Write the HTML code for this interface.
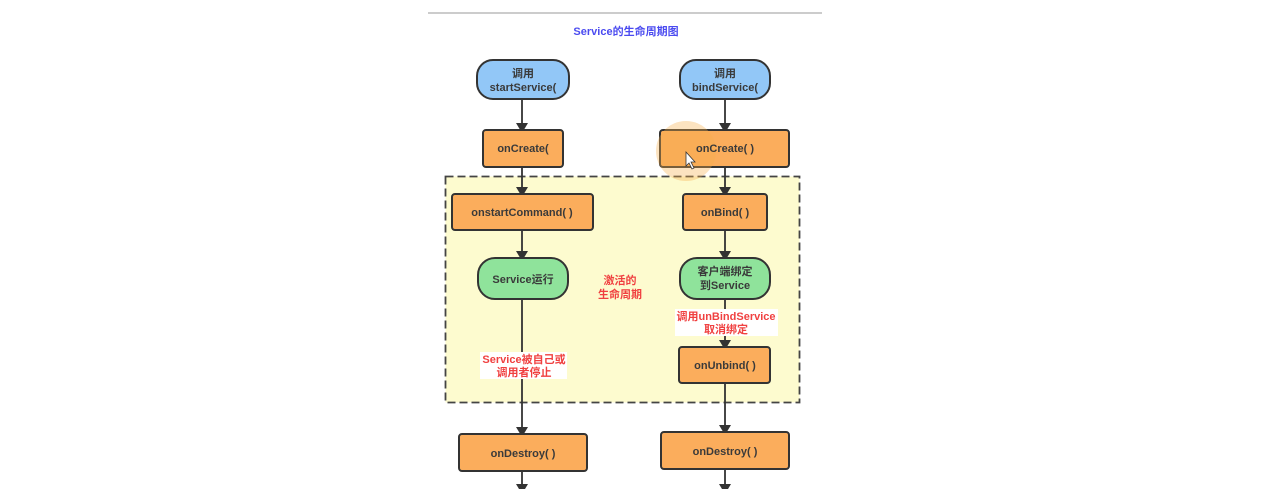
<!DOCTYPE html>
<html><head><meta charset="utf-8"><style>
html,body{margin:0;padding:0;background:#fff;width:1280px;height:489px;overflow:hidden}
svg{display:block}
text{font-family:"Liberation Sans","Noto Sans CJK SC",sans-serif;font-weight:bold;font-size:11px;text-anchor:middle}
</style></head><body>
<svg width="1280" height="489" viewBox="0 0 1280 489">
<defs><marker id="a" markerWidth="10" markerHeight="12" refX="5" refY="6" orient="auto" markerUnits="userSpaceOnUse"><path d="M0,0 L10,6 L0,12 Z" fill="#333"/></marker></defs>
<line x1="428" y1="13" x2="822" y2="13" stroke="#bbb" stroke-width="1.5"/>
<text x="626" y="35" fill="#4b4bf0" font-size="11">Service的生命周期图</text>
<rect x="445.5" y="176.5" width="354" height="226" fill="#fdfbcf" stroke="#444" stroke-width="1.8" stroke-dasharray="8,4"/>
<g stroke="#333" stroke-width="1.8" fill="none">
<line x1="522" y1="99" x2="522" y2="128" marker-end="url(#a)"/>
<line x1="522" y1="167" x2="522" y2="192" marker-end="url(#a)"/>
<line x1="522" y1="230" x2="522" y2="256" marker-end="url(#a)"/>
<line x1="522" y1="299" x2="522" y2="432" marker-end="url(#a)"/>
<line x1="522" y1="471" x2="522" y2="489" marker-end="url(#a)"/>
<line x1="725" y1="99" x2="725" y2="128" marker-end="url(#a)"/>
<line x1="725" y1="167" x2="725" y2="192" marker-end="url(#a)"/>
<line x1="725" y1="230" x2="725" y2="256" marker-end="url(#a)"/>
<line x1="725" y1="299" x2="725" y2="345" marker-end="url(#a)"/>
<line x1="725" y1="383" x2="725" y2="430" marker-end="url(#a)"/>
<line x1="725" y1="469" x2="725" y2="489" marker-end="url(#a)"/>
</g>
<g stroke="#333" stroke-width="2">
<rect x="477" y="60" width="92" height="39" rx="16" fill="#92c7f7"/>
<rect x="680" y="60" width="90" height="39" rx="16" fill="#92c7f7"/>
<rect x="483" y="130" width="80" height="37" rx="3" fill="#fbad5c"/>
<rect x="660" y="130" width="129" height="37" rx="3" fill="#fbad5c"/>
<rect x="452" y="194" width="141" height="36" rx="3" fill="#fbad5c"/>
<rect x="683" y="194" width="84" height="36" rx="3" fill="#fbad5c"/>
<rect x="478" y="258" width="90" height="41" rx="17" fill="#8fe39b"/>
<rect x="680" y="258" width="90" height="41" rx="17" fill="#8fe39b"/>
<rect x="679" y="347" width="91" height="36" rx="3" fill="#fbad5c"/>
<rect x="459" y="434" width="128" height="37" rx="3" fill="#fbad5c"/>
<rect x="661" y="432" width="128" height="37" rx="3" fill="#fbad5c"/>
</g>
<circle cx="686" cy="151" r="30" fill="#f6b04a" opacity="0.35"/>
<rect x="480" y="352" width="87" height="27" fill="#fff"/>
<rect x="675" y="309" width="103" height="27" fill="#fff"/>
<g fill="#3a3a3a">
<text x="523" y="77">调用</text><text x="523" y="91">startService(</text>
<text x="725" y="77">调用</text><text x="725" y="91">bindService(</text>
<text x="523" y="152">onCreate(</text>
<text x="725" y="152">onCreate( )</text>
<text x="522" y="216">onstartCommand( )</text>
<text x="725" y="216">onBind( )</text>
<text x="523" y="283">Service运行</text>
<text x="725" y="275">客户端绑定</text><text x="725" y="289">到Service</text>
<text x="725" y="369">onUnbind( )</text>
<text x="523" y="457">onDestroy( )</text>
<text x="725" y="455">onDestroy( )</text>
</g>
<g fill="#f04040">
<text x="620" y="284">激活的</text><text x="620" y="298">生命周期</text>
<text x="524" y="363">Service被自己或</text><text x="524" y="376">调用者停止</text>
<text x="726" y="320">调用unBindService</text><text x="726" y="333">取消绑定</text>
</g>
<path d="M686,152 l0,14 l3,-3 l3,6 l2,-1 l-3,-6 l4,0 Z" fill="#fff" stroke="#333" stroke-width="0.8"/>
</svg>
</body></html>
